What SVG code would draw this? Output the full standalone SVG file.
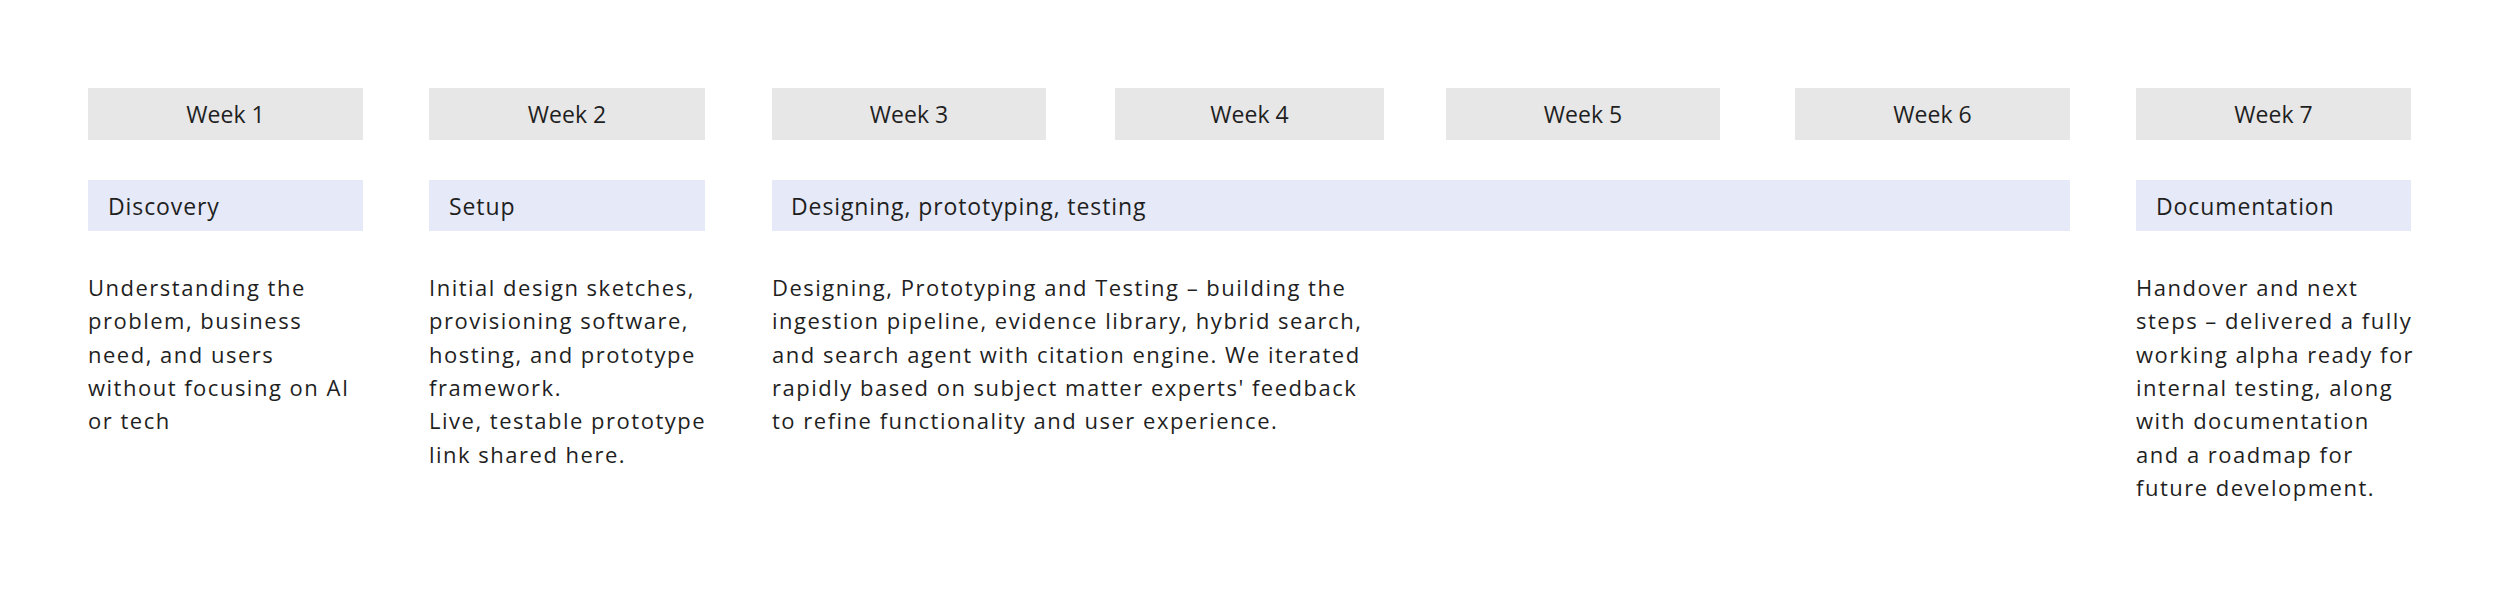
<svg xmlns="http://www.w3.org/2000/svg" width="2500" height="592" viewBox="0 0 2500 592">
<style>
.wk{fill:#e7e7e7}
.ph{fill:#e6e9f7}
.wt{font-family:"Open Sans","Liberation Sans",sans-serif;font-size:23px;fill:#1f1f1f;text-anchor:middle}
.pt{font-family:"Open Sans","Liberation Sans",sans-serif;font-size:23px;fill:#1f1f1f;letter-spacing:0.9px}
.bt{font-family:"Open Sans","Liberation Sans",sans-serif;font-size:22px;fill:#1f1f1f;letter-spacing:1.5px}
</style>
<rect width="2500" height="592" fill="#ffffff"/>
<g id="week1"><rect class="wk" x="88" y="88" width="275" height="52"/><text class="wt" x="225.5" y="123">Week 1</text></g>
<g id="week2"><rect class="wk" x="429" y="88" width="276" height="52"/><text class="wt" x="567" y="123">Week 2</text></g>
<g id="week3"><rect class="wk" x="772" y="88" width="274" height="52"/><text class="wt" x="909" y="123">Week 3</text></g>
<g id="week4"><rect class="wk" x="1115" y="88" width="269" height="52"/><text class="wt" x="1249.5" y="123">Week 4</text></g>
<g id="week5"><rect class="wk" x="1446" y="88" width="274" height="52"/><text class="wt" x="1583" y="123">Week 5</text></g>
<g id="week6"><rect class="wk" x="1795" y="88" width="275" height="52"/><text class="wt" x="1932.5" y="123">Week 6</text></g>
<g id="week7"><rect class="wk" x="2136" y="88" width="275" height="52"/><text class="wt" x="2273.5" y="123">Week 7</text></g>
<g id="discovery"><rect class="ph" x="88" y="180" width="275" height="51"/><text class="pt" x="108" y="215">Discovery</text></g>
<g id="setup"><rect class="ph" x="429" y="180" width="276" height="51"/><text class="pt" x="449" y="215">Setup</text></g>
<g id="designing"><rect class="ph" x="772" y="180" width="1298" height="51"/><text class="pt" x="791" y="215">Designing, prototyping, testing</text></g>
<g id="documentation"><rect class="ph" x="2136" y="180" width="275" height="51"/><text class="pt" x="2156" y="215">Documentation</text></g>
<g id="desc1"><text class="bt" x="88" y="296"><tspan x="88">Understanding the</tspan><tspan x="88" dy="33.3">problem, business</tspan><tspan x="88" dy="33.3">need, and users</tspan><tspan x="88" dy="33.3">without focusing on AI</tspan><tspan x="88" dy="33.3">or tech</tspan></text></g>
<g id="desc2"><text class="bt" x="429" y="296"><tspan x="429">Initial design sketches,</tspan><tspan x="429" dy="33.3">provisioning software,</tspan><tspan x="429" dy="33.3">hosting, and prototype</tspan><tspan x="429" dy="33.3">framework.</tspan><tspan x="429" dy="33.3">Live, testable prototype</tspan><tspan x="429" dy="33.3">link shared here.</tspan></text></g>
<g id="desc3"><text class="bt" x="772" y="296"><tspan x="772">Designing, Prototyping and Testing – building the</tspan><tspan x="772" dy="33.3">ingestion pipeline, evidence library, hybrid search,</tspan><tspan x="772" dy="33.3">and search agent with citation engine. We iterated</tspan><tspan x="772" dy="33.3">rapidly based on subject matter experts' feedback</tspan><tspan x="772" dy="33.3">to refine functionality and user experience.</tspan></text></g>
<g id="desc7"><text class="bt" x="2136" y="296"><tspan x="2136">Handover and next</tspan><tspan x="2136" dy="33.3">steps – delivered a fully</tspan><tspan x="2136" dy="33.3">working alpha ready for</tspan><tspan x="2136" dy="33.3">internal testing, along</tspan><tspan x="2136" dy="33.3">with documentation</tspan><tspan x="2136" dy="33.3">and a roadmap for</tspan><tspan x="2136" dy="33.3">future development.</tspan></text></g>
<g id="connectors"></g>
</svg>
